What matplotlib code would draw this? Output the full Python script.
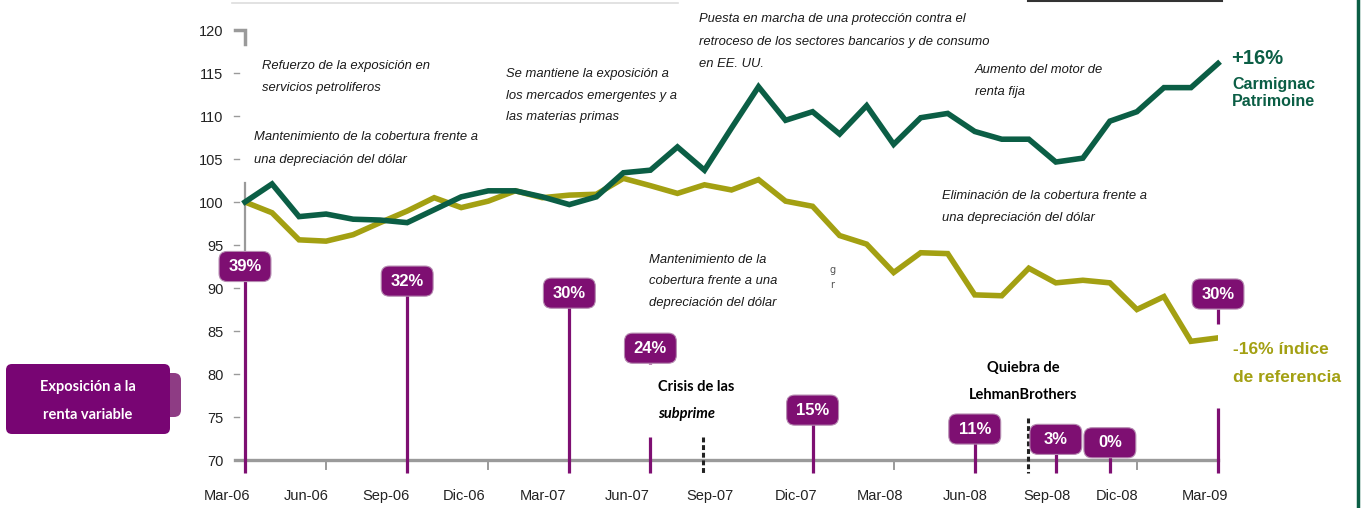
import matplotlib
matplotlib.use('Agg')
import matplotlib.pyplot as plt
import matplotlib.transforms as mtransforms
from matplotlib.patches import FancyBboxPatch

# monthly values, Mar-06 .. Mar-09 (37 points)
carmignac = [100.0, 102.1, 98.3, 98.6, 98.0, 97.9, 97.6, 99.1, 100.6, 101.3, 101.3, 100.6, 99.7,
             100.6, 103.4, 103.7, 106.4, 103.7, 108.6, 113.4, 109.5, 110.5, 107.9, 111.2, 106.7,
             109.8, 110.3, 108.2, 107.3, 107.3, 104.65, 105.1, 109.4, 110.5, 113.3, 113.3, 116.1]
indice = [100.0, 98.75, 95.6, 95.45, 96.2, 97.6, 98.95, 100.5, 99.35, 100.1, 101.3, 100.5, 100.8,
          100.9, 102.75, 101.9, 101.0, 102.0, 101.4, 102.6, 100.1, 99.5, 96.1, 95.1, 91.8,
          94.1, 94.0, 89.2, 89.1, 92.3, 90.6, 90.9, 90.6, 87.5, 89.0, 83.8, 84.2]
months = list(range(len(carmignac)))

# equity exposure badges: month index, label, badge height on the value axis
expo_month = [0, 6, 12, 15, 21, 27, 30, 32, 36]
expo_label = ['39%', '32%', '30%', '24%', '15%', '11%', '3%', '0%', '30%']
expo_level = [92.5, 90.8, 89.4, 83.0, 75.8, 73.6, 72.4, 72.0, 89.3]

tick_labels = ['Mar-06', 'Jun-06', 'Sep-06', 'Dic-06', 'Mar-07', 'Jun-07', 'Sep-07',
               'Dic-07', 'Mar-08', 'Jun-08', 'Sep-08', 'Dic-08', 'Mar-09']
tick_label_pos = [-0.67, 2.26, 5.23, 8.10, 11.03, 14.14, 17.20, 20.38, 23.49, 26.64, 29.67, 32.26, 35.51]

GREEN = '#0B5E45'
OLIVE = '#A3A012'
PURPLE = '#7E0F72'
GRAY = '#9A9A9A'

W, H = 1361, 508
fig = plt.figure(figsize=(W / 100, H / 100), dpi=100)
ax = fig.add_axes([245 / W, 1 - 460 / H, (1218 - 245) / W, (460 - 30) / H])
ax.set_xticks([])
ax.set_yticks(range(70, 121, 5))
ax.set_xlim(0, 36)
ax.set_ylim(70, 120)
ax.set_autoscale_on(False)
for s in ax.spines.values():
    s.set_visible(False)

# pixel transform (origin top-left) for free text / decorations
px = mtransforms.Affine2D().scale(1 / W, -1 / H).translate(0, 1) + fig.transFigure
ytr = mtransforms.blended_transform_factory(px, ax.transData)
xtr = mtransforms.blended_transform_factory(ax.transData, px)

# y axis labels
ax.tick_params(axis='y', length=0, pad=15.5, labelsize=10.5, labelcolor='#222222')
for lab in ax.get_yticklabels():
    lab.set_family('Liberation Sans')

# x labels
for pos, lab in zip(tick_label_pos, tick_labels):
    ax.text(pos, 496, lab, transform=xtr, ha='center', va='center', fontsize=10.5,
            family='Liberation Sans', color='#222222', clip_on=False)

# small y dashes and top bracket
for v in range(75, 120, 5):
    ax.plot([234, 239], [v, v], color=GRAY, lw=1.0, transform=ytr, clip_on=False)
ax.plot([235, 245, 245], [120, 120, 118.4], color=GRAY, lw=2.5, transform=ytr, clip_on=False,
        solid_joinstyle='miter')
ax.plot([0, 0], [102.2, 93], color=GRAY, lw=1.6, clip_on=False)

# x axis line and ticks
ax.plot([-0.37, 36], [70, 70], color=GRAY, lw=2.4, clip_on=False, zorder=2)
for m in [3, 9, 24, 33]:
    ax.plot([m, m], [70, 68.9], color=GRAY, lw=1.4, clip_on=False)

# series
ax.plot(months, indice, color=OLIVE, lw=4.0, solid_joinstyle='miter', zorder=4)
ax.plot(months, carmignac, color=GREEN, lw=4.0, solid_joinstyle='miter', zorder=5, clip_on=False)

# exposure stems + badges
bw, bh = 1.92, 3.5
bottom = 68.5
for m, lab, lvl in zip(expo_month, expo_label, expo_level):
    if lab == '24%':
        segs = [(lvl - bh / 2, 81.2), (72.7, bottom)]
    elif m == 36:
        segs = [(lvl - bh / 2, 85.8), (76.0, bottom)]
    else:
        segs = [(lvl, bottom)]
    for top, low in segs:
        ax.plot([m, m], [top, low], color=PURPLE, lw=2.3, clip_on=False, zorder=6, solid_capstyle='butt')
    box = FancyBboxPatch((m - bw / 2, lvl - bh / 2), bw, bh,
                         boxstyle='round,pad=0,rounding_size=0.3', mutation_aspect=27.03 / 8.6,
                         fc=PURPLE, ec='#B58AB0', lw=0.8, clip_on=False, zorder=7)
    ax.add_patch(box)
    ax.text(m, lvl, lab, color='white', fontsize=12, fontweight='bold',
            family='Liberation Sans', ha='center', va='center', zorder=8, clip_on=False)

# crisis markers
for m, top in [(16.95, 72.7), (28.97, 74.9)]:
    ax.plot([m, m], [top, bottom], color='#222222', lw=2.2, ls=(0, (1.6, 0.9)), clip_on=False, zorder=6)


def note(x, y, lines, dy=22.5, **kw):
    for i, t in enumerate(lines):
        fig.text(x, y + i * dy, t, transform=px, va='center', **kw)


it = dict(fontsize=9.4, style='italic', family='Liberation Sans', color='#1a1a1a')
note(262, 66, ['Refuerzo de la exposición en', 'servicios petroliferos'], **it)
note(254, 137, ['Mantenimiento de la cobertura frente a', 'una depreciación del dólar'], **it)
note(506, 74, ['Se mantiene la exposición a', 'los mercados emergentes y a', 'las materias primas'], dy=21.5, **it)
note(699, 19, ['Puesta en marcha de una protección contra el',
               'retroceso de los sectores bancarios y de consumo', 'en EE. UU.'], **it)
note(975, 70, ['Aumento del motor de', 'renta fija'], dy=21.5, **it)
note(942, 196, ['Eliminación de la cobertura frente a', 'una depreciación del dólar'], **it)
note(649, 260, ['Mantenimiento de la', 'cobertura frente a una', 'depreciación del dólar'], dy=21.5, **it)
fig.text(830, 270, 'g', transform=px, fontsize=7, color='#555555', va='center')
fig.text(830, 285, 'r', transform=px, fontsize=7, color='#555555', va='center')

bold = dict(fontsize=10.5, fontweight='bold', family='Lato', color='black')
fig.text(658, 387, 'Crisis de las', transform=px, va='center', **bold)
fig.text(658, 414, 'subprime', transform=px, va='center', style='italic', **bold)
fig.text(1023, 368, 'Quiebra de', transform=px, va='center', ha='center', **bold)
fig.text(1023, 395, 'LehmanBrothers', transform=px, va='center', ha='center', **bold)

# end labels
fig.text(1231, 58, '+16%', transform=px, va='center', fontsize=14.5, fontweight='bold',
         family='Liberation Sans', color=GREEN)
for y, t in [(84, 'Carmignac'), (102, 'Patrimoine')]:
    fig.text(1232, y, t, transform=px, va='center', fontsize=11.5, fontweight='bold',
             family='Liberation Sans', color=GREEN)
for y, t in [(350, '-16% índice'), (378, 'de referencia')]:
    fig.text(1233, y, t, transform=px, va='center', fontsize=12.5, fontweight='bold',
             family='Liberation Sans', color=OLIVE)

# left legend box
fig.patches.append(FancyBboxPatch((150, 373), 31, 44, boxstyle='round,pad=0,rounding_size=7',
                                  fc='#8E3C84', ec='none', transform=px, figure=fig))
fig.patches.append(FancyBboxPatch((6, 364), 164, 70, boxstyle='round,pad=0,rounding_size=6',
                                  fc='#780573', ec='none', transform=px, figure=fig))
for y, t in [(387, 'Exposición a la'), (415, 'renta variable')]:
    fig.text(88, y, t, transform=px, ha='center', va='center', color='white',
             fontsize=10.5, fontweight='bold', family='Lato')

# frame remnants
fig.lines.append(plt.Line2D([232, 678], [3, 3], color='#DDDDDD', lw=1.2, transform=px, figure=fig))
fig.lines.append(plt.Line2D([1028, 1222], [1, 1], color='#333333', lw=1.5, transform=px, figure=fig))
fig.lines.append(plt.Line2D([1358, 1358], [0, 508], color=GREEN, lw=2.5, transform=px, figure=fig))

fig.savefig('out.png', dpi=100)
